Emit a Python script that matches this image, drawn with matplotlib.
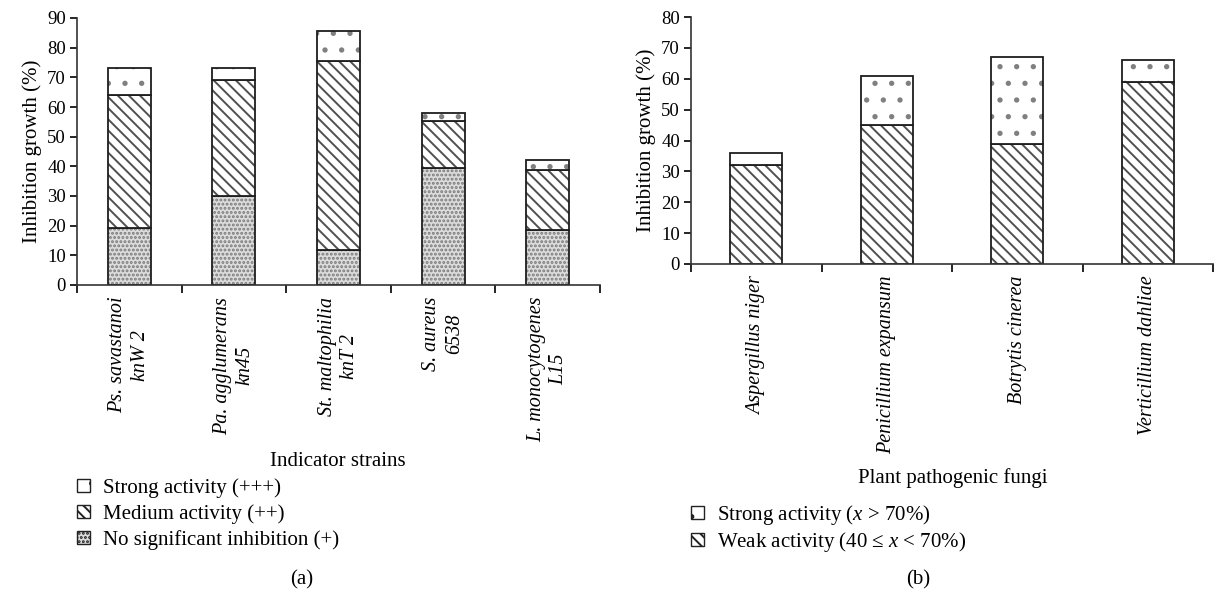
import numpy as np
import matplotlib.pyplot as plt
from matplotlib.patches import Patch

# (a) indicator strains, stacked segment heights (%)
strains = ['Ps. savastanoi\nknW 2', 'Pa. agglumerans\nkn45', 'St. maltophilia\nknT 2',
           'S. aureus\n6538', 'L. monocytogenes\nL15']
no_sig = [19.2, 30.1, 11.7, 39.4, 18.4]
medium = [44.7, 38.9, 63.9, 15.9, 20.2]
strong_a = [9.2, 4.1, 10.1, 2.7, 3.4]

# (b) plant pathogenic fungi
fungi = ['Aspergillus niger', 'Penicillium expansum', 'Botrytis cinerea', 'Verticillium dahliae']
weak = [32.0, 44.9, 38.8, 58.8]
strong_b = [3.9, 16.1, 28.2, 7.2]

plt.rcParams['font.family'] = ['Liberation Serif', 'DejaVu Serif']
plt.rcParams['mathtext.fontset'] = 'custom'
plt.rcParams['mathtext.rm'] = 'Liberation Serif'
plt.rcParams['mathtext.it'] = 'Liberation Serif:italic'
plt.rcParams['hatch.linewidth'] = 1.4

# (face, hatch colour, hatch)
DENSE = ('#dcdcdc', '#7a7a7a', '....')
DIAG = ('white', '#505050', '\\' * 3)
SPARSE = ('white', '#808080', '.')

FS = 15


def stacked(ax, cats, segments, styles, ymax, width):
    n = len(cats)
    x = np.arange(n)
    bottom = np.zeros(n)
    for vals, (face, hcol, hatch) in zip(segments, styles):
        ax.bar(x, vals, width, bottom=bottom, color=face, edgecolor=hcol, hatch=hatch, linewidth=0)
        ax.bar(x, vals, width, bottom=bottom, fill=False, edgecolor='#1e1e1e', linewidth=1.3)
        bottom += np.array(vals)
    for s in ['top', 'right']:
        ax.spines[s].set_visible(False)
    for s in ['left', 'bottom']:
        ax.spines[s].set_color('#333333')
        ax.spines[s].set_linewidth(1.2)
    ax.set_xlim(-0.5, n - 0.5)
    ax.set_ylim(0, ymax)
    ax.set_yticks(np.arange(0, ymax + 1, 10))
    ax.tick_params(axis='y', direction='out', length=5, width=1.2, labelsize=13.5, pad=3)
    ax.set_xticks(np.arange(n + 1) - 0.5)
    ax.set_xticklabels([])
    ax.set_xticks(x, minor=True)
    ax.set_xticklabels(cats, minor=True, rotation=90, style='italic', fontsize=14.5,
                       ha='center', va='top', multialignment='center', linespacing=1.25)
    ax.tick_params(axis='x', which='major', direction='out', length=6, width=1.2)
    ax.tick_params(axis='x', which='minor', length=0, pad=8.5)
    ax.set_ylabel('Inhibition growth (%)', fontsize=FS, labelpad=4)


fig = plt.figure(figsize=(12.15, 5.92), dpi=100)
W, H = 1215, 592

ax1 = fig.add_axes([77 / W, 1 - 285 / H, 523 / W, 267 / H])
stacked(ax1, strains, [no_sig, medium, strong_a], [DENSE, DIAG, SPARSE], 90, 0.41)

ax2 = fig.add_axes([691 / W, 1 - 264 / H, 522 / W, 247 / H])
stacked(ax2, fungi, [weak, strong_b], [DIAG, SPARSE], 80, 0.4)

fig.text(338 / W, 1 - 462 / H, 'Indicator strains', ha='center', va='center', fontsize=FS)
fig.text(953 / W, 1 - 478 / H, 'Plant pathogenic fungi', ha='center', va='center', fontsize=FS)


def handle(style):
    face, hcol, hatch = style
    return Patch(facecolor=face, edgecolor='#222222', hatch=hatch, linewidth=1)


leg_kw = dict(loc='upper left', frameon=False, fontsize=FS, handlelength=0.6, handleheight=0.6,
              handletextpad=0.65, borderaxespad=0, borderpad=0)
fig.legend([handle(SPARSE), handle(DIAG), handle(DENSE)],
           ['Strong activity (+++)', 'Medium activity (++)', 'No significant inhibition (+)'],
           bbox_to_anchor=(77 / W, 1 - 478 / H), labelspacing=0.3, **leg_kw)
fig.legend([handle(SPARSE), handle(DIAG)],
           ['Strong activity ($x$ > 70%)', 'Weak activity (40 \u2264 $x$ < 70%)'],
           bbox_to_anchor=(691 / W, 1 - 503 / H), labelspacing=0.15, **leg_kw)

fig.text(302 / W, 1 - 580 / H, '(a)', ha='center', va='center', fontsize=FS)
fig.text(918 / W, 1 - 580 / H, '(b)', ha='center', va='center', fontsize=FS)

plt.savefig('out.png', dpi=100)
